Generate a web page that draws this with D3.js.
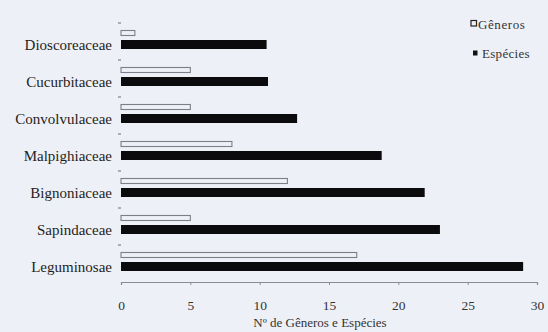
<!DOCTYPE html>
<html><head><meta charset="utf-8">
<script src="https://cdn.jsdelivr.net/npm/d3@7"></script>
<style>html,body{margin:0;padding:0;background:#eef0f7;}svg{display:block;}
svg text{font-family:"Liberation Serif","Times New Roman",Times,serif;}</style>
</head><body>
<svg id="c" width="548" height="332"></svg>
<script>
const categories = ["Dioscoreaceae","Cucurbitaceae","Convolvulaceae","Malpighiaceae","Bignoniaceae","Sapindaceae","Leguminosae"];
const generos = [1, 5, 5, 8, 12, 5, 17];
const especies = [10.5, 10.6, 12.7, 18.8, 21.9, 23, 29];
const xTicks = [0, 5, 10, 15, 20, 25, 30];
const seriesNames = ["Gêneros", "Espécies"];
const xTitle = "Nº de Gêneros e Espécies";

const svg = d3.select("#c");
const ink = "#1e1e22";
svg.append("rect").attr("width",548).attr("height",332).attr("fill","#eef0f7");

const x = d3.scaleLinear().domain([0,30]).range([121,537]);
const y = d3.scaleBand().domain(categories).range([23,282]).padding(0);

// bottom axis
const xAxis = d3.axisBottom(x).tickValues(xTicks).tickSize(3).tickPadding(15).tickFormat(d3.format("d"));
const gx = svg.append("g").attr("transform","translate(0,282)").call(xAxis);
gx.attr("font-family",null);
gx.select(".domain").attr("stroke","#8a8c94").attr("stroke-width",1.2);
gx.selectAll(".tick line").attr("stroke","#8a8c94");
gx.selectAll("text").attr("font-size",13.5).attr("fill","#333");

// left category ticks at band boundaries
const bounds = categories.map(c=>y(c));
svg.append("g").selectAll("line").data(bounds).join("line")
  .attr("x1",118).attr("x2",121).attr("y1",d=>d).attr("y2",d=>d)
  .attr("stroke","#6a6c74").attr("stroke-width",1);

// genus bars
svg.append("g").selectAll("rect").data(generos).join("rect")
  .attr("x",x(0)).attr("y",(d,i)=>y(categories[i])+7.5)
  .attr("width",d=>x(d)-x(0)).attr("height",5)
  .attr("fill","none").attr("stroke","#7d7f88").attr("stroke-width",1.1);

// species bars
svg.append("g").selectAll("rect").data(especies).join("rect")
  .attr("x",x(0)).attr("y",(d,i)=>y(categories[i])+17)
  .attr("width",d=>x(d)-x(0)).attr("height",9)
  .attr("fill","#0b0b0d");

// category labels
svg.append("g").selectAll("text").data(categories).join("text")
  .attr("x",112).attr("y",c=>y(c)+22).attr("dy","0.35em")
  .attr("text-anchor","end").attr("font-size",15)
  .attr("fill",ink).text(d=>d);

// axis title
svg.append("text").attr("x",320).attr("y",327).attr("text-anchor","middle")
  .attr("font-size",13).attr("fill","#333").text(xTitle);

// legend
const lg = svg.append("g");
lg.append("rect").attr("x",471).attr("y",20.5).attr("width",5.5).attr("height",5.5)
  .attr("fill","none").attr("stroke","#222").attr("stroke-width",1.2);
lg.append("text").attr("x",478).attr("y",24).attr("dy","0.35em")
  .attr("font-size",13).attr("letter-spacing",0.6).attr("fill","#333").text(seriesNames[0]);
lg.append("rect").attr("x",473).attr("y",50.5).attr("width",4.5).attr("height",5)
  .attr("fill","#111");
lg.append("text").attr("x",482).attr("y",53).attr("dy","0.35em")
  .attr("font-size",13).attr("letter-spacing",0.3).attr("fill","#333").text(seriesNames[1]);
</script>
</body></html>
